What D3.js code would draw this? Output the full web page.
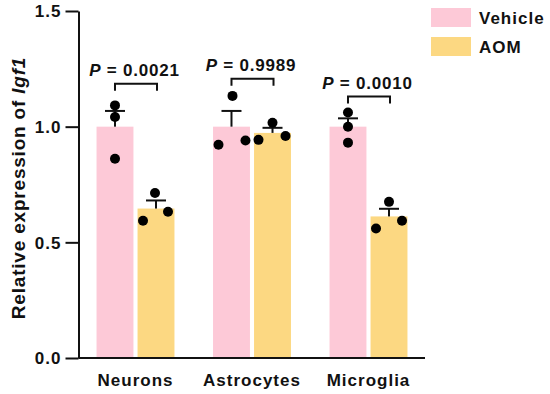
<!DOCTYPE html>
<html>
<head>
<meta charset="utf-8">
<script src="https://cdn.jsdelivr.net/npm/d3@7"></script>
<style>
  body { margin: 0; background: #fff; }
  text { font-family: "Liberation Sans", Arial, sans-serif; font-weight: bold; fill: #111; }
</style>
</head>
<body>
<div id="chart"></div>
<script>
// data
var cellTypes = ["Neurons", "Astrocytes", "Microglia"]
var groups = ["Vehicle", "AOM"]
var vehicleMean = [1.0, 1.0, 1.0]
var aomMean = [0.646, 0.973, 0.612]
var vehicleSem = [0.068, 0.068, 0.036]
var aomSem = [0.035, 0.022, 0.033]
var vehiclePoints = [[1.092, 1.042, 0.861], [0.922, 1.133, 0.940], [1.061, 1.000, 0.931]]
var aomPoints = [[0.593, 0.713, 0.632], [0.943, 1.017, 0.960], [0.560, 0.675, 0.593]]
var pLabels = ["0.0021", "0.9989", "0.0010"]
var bracketLevel = [1.186, 1.207, 1.13]
var yTicks = [0.0, 0.5, 1.0, 1.5]

var width = 550,
    height = 394

var colors = { Vehicle: "#FDC9D7", AOM: "#FCD882" }

var svg = d3.select("#chart").append("svg")
    .attr("width", width)
    .attr("height", height)

var yScale = d3.scaleLinear()
    .domain([0, 1.5])
    .range([358, 11])

var xScale = d3.scaleBand()
    .domain(cellTypes)
    .range([77.25, 426.75])

var xInner = d3.scaleBand()
    .domain(groups)
    .range([0, xScale.bandwidth()])
    .paddingInner(0.1)
    .paddingOuter(0.47)

// build rows for bars
var rows = []
cellTypes.forEach(function (c, i) {
    rows.push({ cell: c, group: "Vehicle", mean: vehicleMean[i], sem: vehicleSem[i], pts: vehiclePoints[i] })
    rows.push({ cell: c, group: "AOM", mean: aomMean[i], sem: aomSem[i], pts: aomPoints[i] })
})

function barX(d) { return xScale(d.cell) + xInner(d.group) }
function barMid(d) { return barX(d) + xInner.bandwidth() / 2 }

svg.selectAll("rect.bar")
    .data(rows)
    .enter()
    .append("rect")
    .attr("class", "bar")
    .attr("x", barX)
    .attr("y", d => yScale(d.mean))
    .attr("width", xInner.bandwidth())
    .attr("height", d => yScale(0) - yScale(d.mean))
    .attr("fill", d => colors[d.group])

// error bars (upper only)
var err = svg.selectAll("g.err")
    .data(rows)
    .enter()
    .append("g")
    .attr("class", "err")
    .attr("stroke", "#111")
    .attr("stroke-width", 2)

err.append("line")
    .attr("x1", barMid).attr("x2", barMid)
    .attr("y1", d => yScale(d.mean))
    .attr("y2", d => yScale(d.mean + d.sem))

err.append("line")
    .attr("x1", d => barMid(d) - 10).attr("x2", d => barMid(d) + 10)
    .attr("y1", d => yScale(d.mean + d.sem))
    .attr("y2", d => yScale(d.mean + d.sem))

// individual points - spread across the bar (neurons vehicle stacked in the middle)
var jitter = [[0, 0, 0], [-13, -1, 12], [-13, 1, 14], [-14, 0, 13], [0, 0, 0], [-13, 0, 13]]
rows.forEach(function (d, i) {
    svg.selectAll(null)
        .data(d.pts)
        .enter()
        .append("circle")
        .attr("cx", (v, j) => barMid(d) + jitter[i][j])
        .attr("cy", v => yScale(v))
        .attr("r", 5)
        .attr("fill", "#000")
})

// axes
var yAxis = d3.axisLeft(yScale)
    .tickValues(yTicks)
    .tickFormat(d3.format(".1f"))
    .tickSize(13)
    .tickSizeOuter(0)

var gy = svg.append("g")
    .attr("transform", "translate(78.5,0)")
    .call(yAxis)
gy.select(".domain").attr("stroke", "#111").attr("stroke-width", 2)
gy.selectAll(".tick line").attr("stroke", "#111").attr("stroke-width", 2)
gy.selectAll(".tick text")
    .attr("x", -17)
    .attr("dy", "0.35em")
    .style("font-size", "17px")
    .style("letter-spacing", "1px")
    .style("font-family", "'Liberation Sans', Arial, sans-serif")
    .style("font-weight", "bold")
    .attr("fill", "#111")

svg.append("line")
    .attr("x1", 78.5).attr("x2", 425)
    .attr("y1", yScale(0)).attr("y2", yScale(0))
    .attr("stroke", "#111")
    .attr("stroke-width", 2)

// category labels
svg.selectAll("text.cat")
    .data(cellTypes)
    .enter()
    .append("text")
    .attr("class", "cat")
    .attr("x", d => xScale(d) + xScale.bandwidth() / 2)
    .attr("y", 386)
    .attr("text-anchor", "middle")
    .style("font-size", "17px")
    .style("letter-spacing", "1px")
    .text(d => d)

// y label
var yl = svg.append("text")
    .attr("transform", "translate(25," + 188 + ") rotate(-90)")
    .attr("text-anchor", "middle")
    .style("font-size", "19px")
    .style("letter-spacing", "0.8px")
yl.append("tspan").text("Relative expression of ")
yl.append("tspan").style("font-style", "italic").text("Igf1")

// significance brackets
cellTypes.forEach(function (c, i) {
    var x1 = xScale(c) + xInner("Vehicle") + xInner.bandwidth() / 2,
        x2 = xScale(c) + xInner("AOM") + xInner.bandwidth() / 2,
        yb = yScale(bracketLevel[i])
    svg.append("path")
        .attr("d", "M" + x1 + "," + (yb + 7) + "V" + yb + "H" + (x2 + 1) + "V" + (yb + 7))
        .attr("fill", "none")
        .attr("stroke", "#111")
        .attr("stroke-width", 2)
    var t = svg.append("text")
        .attr("x", (x1 + x2) / 2 - 1)
        .attr("y", yb - 8)
        .attr("text-anchor", "middle")
        .style("font-size", "17px")
        .style("letter-spacing", "0.8px")
    t.append("tspan").style("font-style", "italic").text("P")
    t.append("tspan").text(" = " + pLabels[i])
})

// legend
var legend = svg.selectAll("g.legend")
    .data(groups)
    .enter()
    .append("g")
    .attr("class", "legend")
    .attr("transform", (d, i) => "translate(431," + (8 + i * 29) + ")")

legend.append("rect")
    .attr("width", 40)
    .attr("height", 19)
    .attr("fill", d => colors[d])

legend.append("text")
    .attr("x", 48)
    .attr("y", 16)
    .style("font-size", "17px")
    .style("letter-spacing", "1px")
    .text(d => d)
</script>
</body>
</html>
